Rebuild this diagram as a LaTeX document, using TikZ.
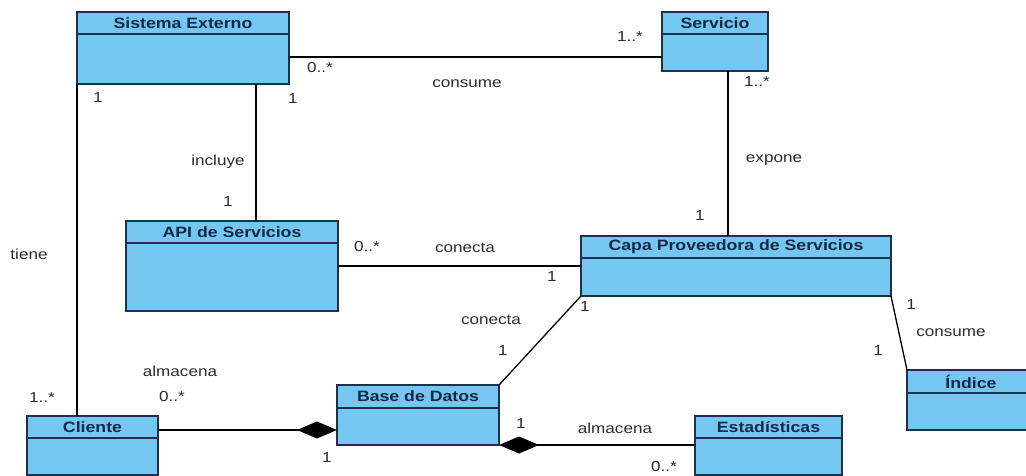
\documentclass[tikz,border=0pt]{standalone}
\usepackage{fontspec}
\setmainfont{Liberation Sans}[FakeStretch=1.18]
\usetikzlibrary{arrows.meta}
\definecolor{clsfill}{RGB}{116,199,240}
\definecolor{clsdraw}{RGB}{30,48,78}
\definecolor{clstext}{RGB}{22,40,72}
\definecolor{lbltext}{RGB}{45,45,45}
\tikzset{
  cls/.style={draw=clsdraw, fill=clsfill, line width=1.4pt, rectangle, inner sep=0pt, outer sep=0pt, anchor=north west},
  hdr/.style={draw=clsdraw, line width=1.2pt},
  ttl/.style={font=\bfseries\fontsize{15}{18}\selectfont, text=clstext, inner sep=0pt},
  lbl/.style={font=\fontsize{14.5}{17}\selectfont, text=lbltext, inner sep=0pt},
  conn/.style={draw=black, line width=1.3pt},
  comp/.style={conn, -{Diamond[length=40pt,width=17pt]}}
}
\newcommand{\umlclass}[7]{%
  \node[cls, minimum width=#4pt, minimum height=#5pt] (#1) at (#2,#3) {};
  \draw[hdr] ([yshift=-#6pt]#1.north west) -- ([yshift=-#6pt]#1.north east);
  \node[ttl] (#1-t) at ([yshift=-#6pt/2]#1.north) {#7};
}
\begin{document}
\begin{tikzpicture}[x=1pt,y=-1pt]
\useasboundingbox (0,0) rectangle (1026,476);
\clip (0,0) rectangle (1026,476);
\fill[white] (0,0) rectangle (1026,476);

\umlclass{se}{77}{12}{212}{72}{22}{Sistema Externo}
\umlclass{sv}{662}{12}{106}{59}{22}{Servicio}
\umlclass{api}{126}{221}{212}{90}{22}{API de Servicios}
\umlclass{cp}{581}{236}{310}{60}{22}{Capa Proveedora de Servicios}
\umlclass{bd}{337}{385}{162}{60}{23}{Base de Datos}
\umlclass{cl}{27}{416}{131}{59}{22}{Cliente}
\umlclass{es}{695}{416}{147}{59}{22}{Estadísticas}
\umlclass{ix}{907}{370}{128}{60}{23}{Índice}

\draw[conn] ([yshift=-45pt]se.north east) -- ([yshift=-45pt]sv.north west);
\draw[conn] ([xshift=66pt]sv.south west) -- ([xshift=147pt]cp.north west);
\draw[conn] (se.south west) -- ([xshift=50pt]cl.north west);
\draw[conn] ([xshift=179pt]se.south west) -- ([xshift=130pt]api.north west);
\draw[conn] ([yshift=-45pt]api.north east) -- ([yshift=-30pt]cp.north west);
\draw[conn] (cp.south west) -- (bd.north east);
\draw[comp] ([yshift=-14pt]cl.north east) -- ([yshift=-45pt]bd.north west);
\draw[comp] ([yshift=-29pt]es.north west) -- (bd.south east);
\draw[conn] (cp.south east) -- (ix.north west);

% labels
\node[lbl] (m1) at (320,68) {0..*};
\node[lbl] (m2) at (630,37) {1..*};
\node[lbl] (a1) at (467,84) {consume};
\node[lbl] (m3) at (757,82) {1..*};
\node[lbl] (a2) at (774,160) {expone};
\node[lbl] (m4) at (700,216) {1};
\node[lbl] (m5) at (98,98) {1};
\node[lbl] (m6) at (293,99) {1};
\node[lbl] (a3) at (218,162) {incluye};
\node[lbl] (m7) at (228,202) {1};
\node[lbl] (a4) at (29,254) {tiene};
\node[lbl] (m8) at (367,247) {0..*};
\node[lbl] (a5) at (465,248) {conecta};
\node[lbl] (m9) at (552,277) {1};
\node[lbl] (m10) at (585,307) {1};
\node[lbl] (a6) at (491,320) {conecta};
\node[lbl] (m11) at (503,351) {1};
\node[lbl] (m12) at (911,305) {1};
\node[lbl] (a7) at (951,333) {consume};
\node[lbl] (m13) at (878,351) {1};
\node[lbl] (a8) at (180,371) {almacena};
\node[lbl] (m14) at (42,398) {1..*};
\node[lbl] (m15) at (172,397) {0..*};
\node[lbl] (m16) at (327,458) {1};
\node[lbl] (m17) at (521,424) {1};
\node[lbl] (a9) at (615,428) {almacena};
\node[lbl] (m18) at (664,467) {0..*};
\end{tikzpicture}
\end{document}
